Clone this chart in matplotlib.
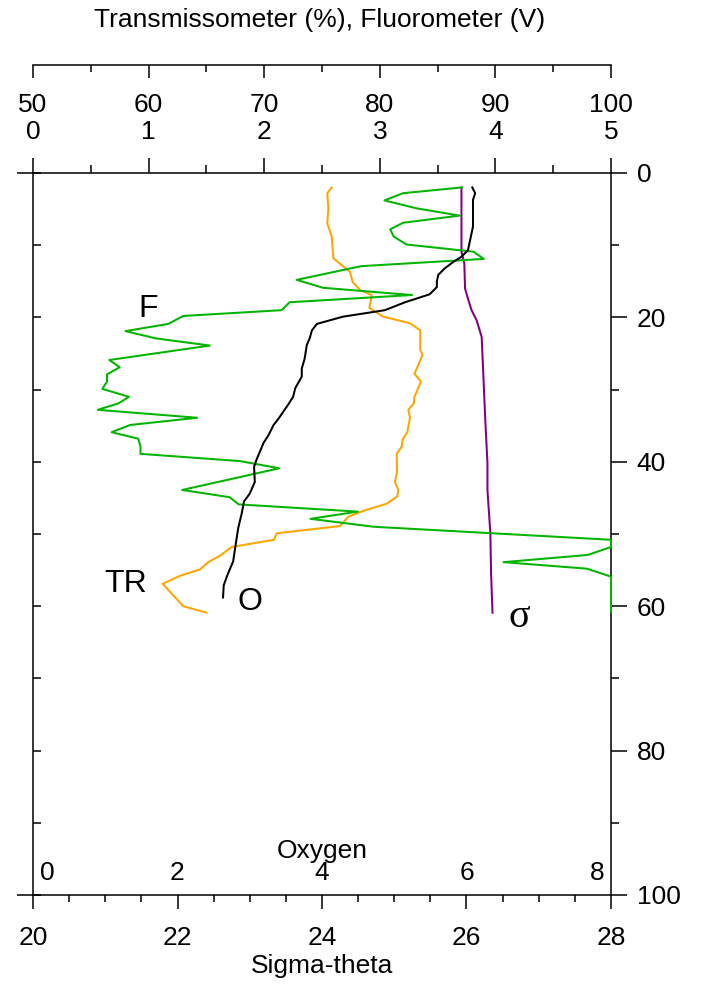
import matplotlib
matplotlib.use("Agg")
import matplotlib.pyplot as plt
from matplotlib.ticker import MultipleLocator, FixedLocator, NullFormatter, FixedFormatter

plt.rcParams['font.family'] = ['Liberation Sans', 'DejaVu Sans']

# ---- profile data (depth in m) ----
fluor_depth = [2.0, 2.8, 3.8, 4.9, 5.9, 6.9, 7.8, 8.8, 9.9, 10.9, 11.9, 12.9, 14.8, 15.9,
               16.9, 17.9, 19.0, 19.8, 20.9, 21.9, 22.9, 23.9, 25.9, 26.9, 27.9, 28.9,
               29.9, 31.0, 31.9, 32.8, 33.9, 34.9, 35.9, 36.8, 37.9, 38.9, 39.9, 40.9,
               43.9, 44.9, 45.9, 46.9, 47.9, 49.0, 50.8, 51.8, 52.9, 53.9, 54.8, 55.9, 60.8]
fluor_volts = [3.71, 3.20, 3.04, 3.32, 3.69, 3.20, 3.09, 3.12, 3.23, 3.81, 3.90, 2.84, 2.28, 2.51,
               3.28, 2.22, 2.15, 1.30, 1.17, 0.80, 1.06, 1.53, 0.66, 0.75, 0.64, 0.64,
               0.60, 0.83, 0.74, 0.56, 1.42, 0.84, 0.68, 0.91, 0.93, 0.93, 1.79, 2.13,
               1.29, 1.70, 1.78, 2.81, 2.40, 2.95, 5.00, 5.00, 4.80, 4.07, 4.79, 5.00, 5.00]

trans_depth = [2.0, 2.8, 4.9, 7.0, 8.8, 11.8, 13.7, 15.1, 16.2, 16.9, 18.7, 19.9, 20.8, 21.8,
               24.5, 25.2, 27.8, 28.9, 31.0, 31.9, 32.8, 33.9, 35.9, 36.9, 37.9, 38.9,
               41.4, 42.8, 43.9, 44.8, 45.8, 46.8, 47.6, 48.9, 49.9, 50.8, 51.8, 53.0,
               53.9, 54.9, 55.8, 56.9, 60.0, 60.9]
trans_pct = [75.84, 75.46, 75.55, 75.46, 75.84, 75.98, 77.42, 77.65, 78.29, 79.30, 79.10, 80.30, 82.60, 83.50,
             83.50, 83.70, 83.00, 83.56, 83.00, 82.95, 82.47, 82.61, 82.38, 81.98, 81.89, 81.46,
             81.49, 81.31, 81.60, 81.51, 80.60, 78.57, 77.28, 76.56, 71.08, 70.85, 67.19, 66.18,
             65.17, 64.45, 62.70, 61.22, 63.00, 65.00]

oxy_depth = [2.0, 2.8, 3.7, 5.8, 7.4, 9.3, 10.7, 11.6, 12.3, 13.2, 14.1, 15.0, 15.8, 16.8,
             17.9, 19.0, 19.9, 20.9, 21.8, 22.9, 23.8, 25.7, 27.1, 28.2, 29.8, 31.0, 32.1,
             34.0, 34.9, 36.3, 37.4, 39.8, 40.7, 42.8, 44.4, 45.5, 47.1, 49.2, 51.8, 53.8,
             55.7, 57.1, 58.8]
oxy_val = [6.08, 6.12, 6.09, 6.09, 6.09, 6.05, 6.02, 5.93, 5.82, 5.70, 5.61, 5.59, 5.59, 5.49,
           5.15, 4.87, 4.29, 3.93, 3.86, 3.83, 3.79, 3.76, 3.72, 3.72, 3.63, 3.60, 3.53,
           3.40, 3.33, 3.26, 3.19, 3.09, 3.06, 3.07, 3.00, 2.92, 2.89, 2.84, 2.80, 2.77,
           2.69, 2.64, 2.63]

sigma_depth = [2.0, 10.9, 12.5, 16.0, 17.4, 19.0, 20.4, 22.7, 27.3, 34.2, 40.2, 43.9, 49.9, 55.4, 60.9]
sigma_theta = [25.93, 25.93, 25.97, 25.98, 26.02, 26.07, 26.14, 26.21, 26.23, 26.26, 26.29, 26.29,
               26.33, 26.34, 26.36]

# ---- axis ticks / labels ----
trans_ticks = [50, 60, 70, 80, 90, 100]
fluor_ticks = [0, 1, 2, 3, 4, 5]
oxy_ticks = [0, 2, 4, 6, 8]
sigma_ticks = [20, 22, 24, 26, 28]
depth_ticks = [0, 20, 40, 60, 80, 100]

GREEN = '#00b400'
ORANGE = '#ffa500'
PURPLE = '#800080'
LW = 1.45
SPW = 1.1
FS = 19

W, H = 701, 986
fig = plt.figure(figsize=(W / 100, H / 100), dpi=100)


def fx(px):
    return px / W


def fy(py):
    return 1 - py / H


ax = fig.add_axes([fx(33), fy(895), fx(611) - fx(33), fy(173) - fy(895)])
ax.set_xlim(20, 28)
ax.set_ylim(100, 0)
for s in ax.spines.values():
    s.set_linewidth(SPW)

# sigma-theta scale along the bottom
ax.xaxis.set_major_locator(FixedLocator(sigma_ticks))
ax.xaxis.set_minor_locator(MultipleLocator(0.5))
ax.tick_params(axis='x', which='major', direction='out', length=10, width=SPW,
               labelsize=FS, pad=12, top=False, bottom=True)
ax.tick_params(axis='x', which='minor', direction='out', length=5, width=SPW,
               top=False, bottom=True)
# inward depth ticks on the left edge
ax.yaxis.set_major_locator(MultipleLocator(10))
ax.yaxis.set_minor_locator(FixedLocator([]))
ax.tick_params(axis='y', which='major', direction='in', length=6, width=SPW,
               left=True, right=False, labelleft=False)

# depth scale on the right
ax_r = ax.twinx()
ax_r.set_ylim(100, 0)
ax_r.yaxis.set_major_locator(FixedLocator(depth_ticks))
ax_r.yaxis.set_minor_locator(MultipleLocator(10))
ax_r.tick_params(axis='y', which='major', direction='out', length=11.5, width=SPW,
                 labelsize=FS, pad=7, right=True, left=False)
ax_r.tick_params(axis='y', which='minor', direction='out', length=5.5, width=SPW,
                 right=True, left=False)
for s in ax_r.spines.values():
    s.set_visible(False)

# outward stubs at the surface and at the bottom on the left edge
ax_l = ax.twinx()
ax_l.set_ylim(100, 0)
ax_l.yaxis.set_ticks_position('left')
ax_l.yaxis.set_major_locator(FixedLocator([0, 100]))
ax_l.yaxis.set_major_formatter(NullFormatter())
ax_l.tick_params(axis='y', direction='out', length=11.5, width=SPW, left=True, right=False)
for s in ax_l.spines.values():
    s.set_visible(False)

# transmissometer scale (ticks on the top edge of the frame)
ax_t = ax.twiny()
ax_t.set_xlim(50, 100)
ax_t.xaxis.set_major_locator(FixedLocator(trans_ticks))
ax_t.xaxis.set_minor_locator(MultipleLocator(5))
ax_t.xaxis.set_major_formatter(NullFormatter())
ax_t.tick_params(axis='x', which='major', direction='out', length=11, width=SPW, top=True, bottom=False)
ax_t.tick_params(axis='x', which='minor', direction='out', length=6, width=SPW, top=True, bottom=False)
for s in ax_t.spines.values():
    s.set_visible(False)

# fluorometer and oxygen scales share the frame
ax_f = ax.twiny()
ax_f.set_xlim(0, 5)
ax_f.set_xticks([])
ax_o = ax.twiny()
ax_o.set_xlim(0, 8)
ax_o.set_xticks([])
for a in (ax_f, ax_o):
    for s in a.spines.values():
        s.set_visible(False)

# profiles
ax_f.plot(fluor_volts, fluor_depth, color=GREEN, lw=LW, clip_on=False, zorder=5)
ax_t.plot(trans_pct, trans_depth, color=ORANGE, lw=LW, zorder=4)
ax_o.plot(oxy_val, oxy_depth, color='black', lw=LW, zorder=4)
ax.plot(sigma_theta, sigma_depth, color=PURPLE, lw=LW, zorder=4)

# curve labels
ax_f.text(1.0, 20, 'F', fontsize=23, ha='center', va='baseline')
ax_t.text(58, 58, 'TR', fontsize=23, ha='center', va='baseline')
ax_o.text(3.0, 60.5, 'O', fontsize=23, ha='center', va='baseline')
ax.text(26.73, 62.9, 'σ', fontsize=29, ha='center', va='baseline',
        family=['Liberation Serif', 'DejaVu Serif'])

# oxygen scale labels inside the frame
for v in oxy_ticks:
    if v == oxy_ticks[0]:
        ha, dx = 'left', 5
    elif v == oxy_ticks[-1]:
        ha, dx = 'right', -5
    else:
        ha, dx = 'center', 0
    ax_o.annotate(str(v), xy=(v, 0), xycoords=('data', 'axes fraction'),
                  xytext=(dx, 15.5), textcoords='offset points',
                  ha=ha, va='center', fontsize=FS)
ax_o.annotate('Oxygen', xy=(4, 0), xycoords=('data', 'axes fraction'),
              xytext=(0, 31.5), textcoords='offset points',
              ha='center', va='center', fontsize=FS)

# separate scale bar above the frame for transmissometer / fluorometer
ax_s = fig.add_axes([fx(33), fy(65), fx(611) - fx(33), 0.0001])
ax_s.set_xlim(50, 100)
ax_s.patch.set_visible(False)
for k, s in ax_s.spines.items():
    s.set_visible(k == 'bottom')
ax_s.spines['bottom'].set_linewidth(SPW)
ax_s.yaxis.set_visible(False)
ax_s.xaxis.set_major_locator(FixedLocator(trans_ticks))
ax_s.xaxis.set_major_formatter(FixedFormatter([f'{t}\n{f}' for t, f in zip(trans_ticks, fluor_ticks)]))
ax_s.xaxis.set_minor_locator(MultipleLocator(5))
ax_s.tick_params(axis='x', which='major', direction='out', length=9.5, width=SPW,
                 labelsize=FS, pad=11)
ax_s.tick_params(axis='x', which='minor', direction='out', length=5, width=SPW)
for lab in ax_s.get_xticklabels():
    lab.set_linespacing(1.12)

fig.text(fx(320), fy(20), 'Transmissometer (%), Fluorometer (V)', ha='center', va='center', fontsize=FS)
fig.text(fx(322), fy(966), 'Sigma-theta', ha='center', va='center', fontsize=FS)

fig.savefig('out.png', dpi=100)
